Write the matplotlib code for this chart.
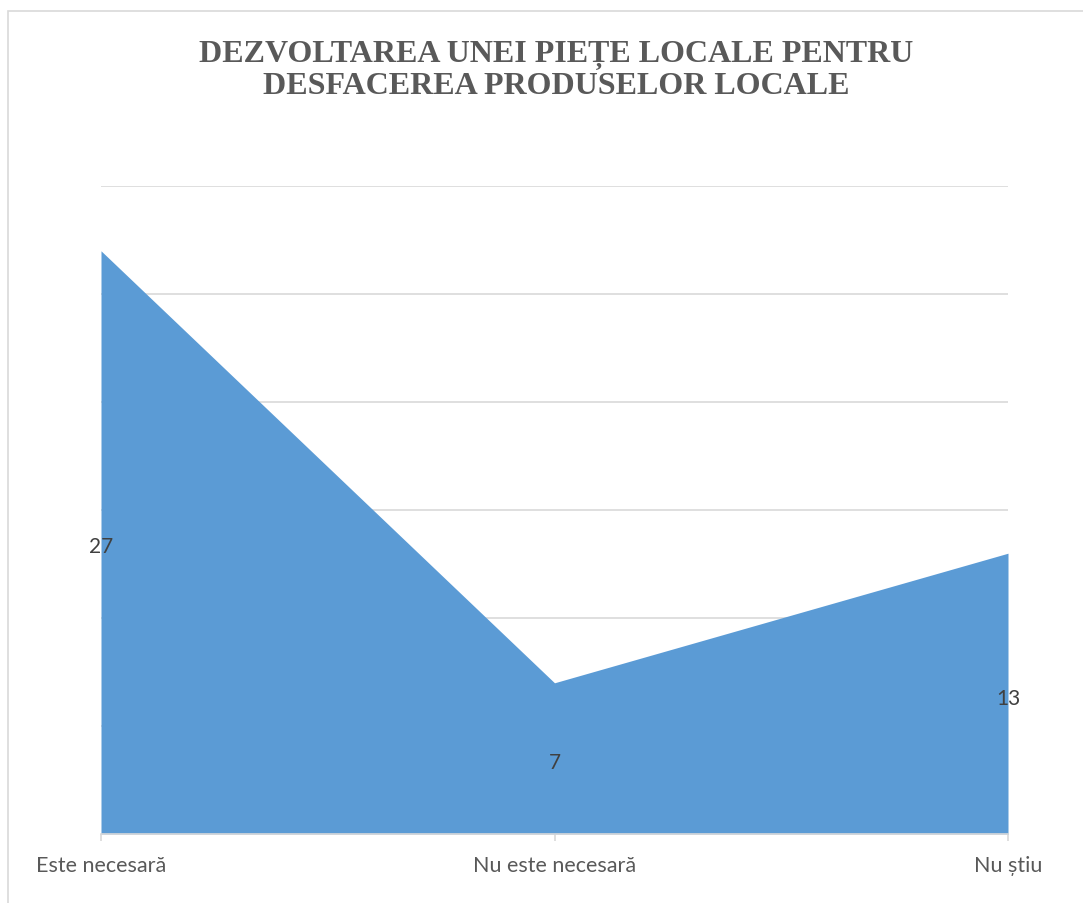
import matplotlib
matplotlib.use("Agg")
import matplotlib.pyplot as plt
from matplotlib.patches import Rectangle
from matplotlib.transforms import offset_copy

categories = ["Este necesară", "Nu este necesară", "Nu știu"]
values = [27, 7, 13]
title = "DEZVOLTAREA UNEI PIEȚE LOCALE PENTRU\nDESFACEREA PRODUSELOR LOCALE"

W, H = 1083, 904
fig = plt.figure(figsize=(W / 100, H / 100), dpi=100)
fig.patch.set_facecolor("white")

# chart border (left & top visible)
fig.add_artist(Rectangle((7.5 / W, -0.1), 1.2, (H - 11.5) / H + 0.1,
                         transform=fig.transFigure, fill=False,
                         edgecolor="#d9d9d9", lw=1.2))

ax = fig.add_axes([101 / W, (H - 835) / H, (1008 - 101) / W, (835 - 187) / H])
x = list(range(len(categories)))
ax.fill_between(x, values, 0, color="#5B9BD5", lw=0, zorder=2)
ax.set_xlim(0, len(categories) - 1)
ax.set_ylim(0, 30)
ax.set_yticks(range(0, 31, 5))
ax.yaxis.grid(True, color="#d9d9d9", lw=1.2, zorder=0)
ax.set_axisbelow(True)
for s in ["top", "right", "left"]:
    ax.spines[s].set_visible(False)
ax.spines["bottom"].set_color("#d9d9d9")
ax.spines["bottom"].set_linewidth(1.2)
ax.spines["bottom"].set_zorder(3)
ax.tick_params(axis="y", left=False, labelleft=False)
ax.set_xticks(x)
ax.set_xticklabels(categories, fontsize=15.5, color="#595959", fontfamily="Lato")
ax.tick_params(axis="x", length=5, color="#d9d9d9", width=1.2, pad=10)

lab_tr = offset_copy(ax.transData, fig=fig, x=0, y=-4, units="dots")
for xi, v in zip(x, values):
    ax.text(xi, v / 2, str(v), ha="center", va="center", fontsize=15,
            color="#404040", fontfamily="Lato", zorder=4, transform=lab_tr)

fig.text(556 / W, 1 - 71 / H, title, ha="center", va="center",
         fontsize=23, fontweight="bold", color="#595959",
         fontfamily="Liberation Serif", linespacing=1.05)

fig.savefig("out.png", dpi=100)
